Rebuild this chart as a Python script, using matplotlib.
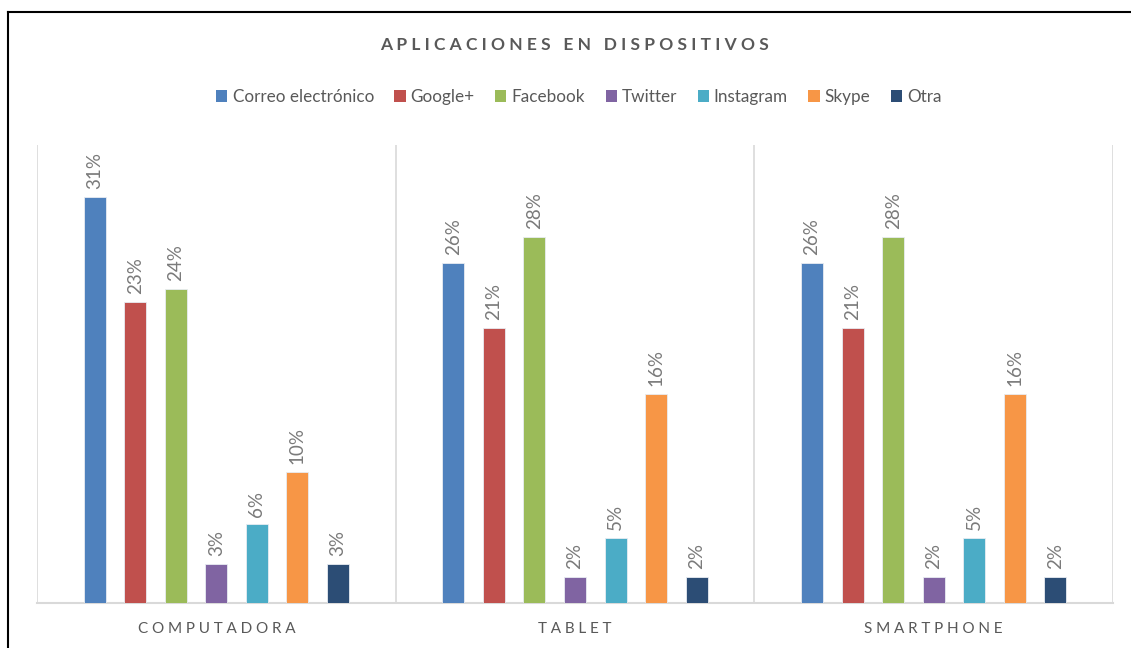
import matplotlib
matplotlib.use("Agg")
import matplotlib.pyplot as plt
import numpy as np
from matplotlib.lines import Line2D
from matplotlib.patches import Patch

plt.rcParams["font.family"] = ["Lato", "DejaVu Sans"]

devices = ["COMPUTADORA", "TABLET", "SMARTPHONE"]
apps = ["Correo electrónico", "Google+", "Facebook", "Twitter", "Instagram", "Skype", "Otra"]
colors = ["#4F81BD", "#C0504D", "#9BBB59", "#8064A2", "#4BACC6", "#F79646", "#2C4D75"]

# percent per app, one value per device (computadora, tablet, smartphone)
correo = [31, 26, 26]
google = [23, 21, 21]
facebook = [24, 28, 28]
twitter = [3, 2, 2]
instagram = [6, 5, 5]
skype = [10, 16, 16]
otra = [3, 2, 2]
series = [correo, google, facebook, twitter, instagram, skype, otra]

GRAY = "#595959"
GRID = "#d9d9d9"


def spaced(s, n=1, word=1):
    # fake letter spacing with thin spaces
    sep = "\u2009" * n
    return (sep + " " * word + sep).join(sep.join(w) for w in s.split(" "))


W, H = 1131, 648
fig = plt.figure(figsize=(W / 100, H / 100), dpi=100)
ax = fig.add_axes([37 / W, 45 / H, (1113 - 37) / W, (603 - 145) / H])

x = np.arange(len(devices))
step, bw = 0.113, 0.0614
for i, (vals, c) in enumerate(zip(series, colors)):
    pos = x + (i - 3) * step
    ax.bar(pos, vals, width=bw, color=c, edgecolor="#e8ecf2", lw=0.6, zorder=3)
    for px, v in zip(pos, vals):
        ax.text(px, v + 0.6, f"{v}%", rotation=90, ha="center", va="bottom",
                fontsize=13.5, color="#7a7a7a", zorder=4)

ax.set_xlim(-0.5, 2.5)
ax.set_ylim(0, 35)
for s in ["top", "right", "left"]:
    ax.spines[s].set_visible(False)
ax.spines["bottom"].set_color(GRID)
ax.spines["bottom"].set_linewidth(1.5)
for b in [-0.5, 0.5, 1.5, 2.5]:
    ax.axvline(b, color=GRID, lw=1.2, zorder=1)
ax.set_yticks([])
ax.set_xticks(x)
ax.set_xticklabels([spaced(d, 2) for d in devices], fontsize=11, color=GRAY)
ax.tick_params(axis="x", length=0, pad=14)

fig.text(574 / W, 1 - 45 / H, spaced("APLICACIONES EN DISPOSITIVOS", 2, 1),
         ha="center", va="center", fontsize=12.5, fontweight="bold", color=GRAY)

handles = [Patch(facecolor=c, edgecolor="none") for c in colors]
fig.legend(handles, apps, loc="center", bbox_to_anchor=(579 / W, 1 - 97 / H), ncol=7,
           frameon=False, fontsize=12.3, handlelength=0.65, handleheight=0.65,
           handletextpad=0.3, columnspacing=1.2, labelcolor=GRAY)

# outer chart border (top and left edges visible in the crop)
fig.add_artist(Line2D([8 / W, 8 / W], [0, 1 - 12 / H], color="black", lw=1.5,
                      transform=fig.transFigure))
fig.add_artist(Line2D([8 / W, 1], [1 - 12 / H, 1 - 12 / H], color="black", lw=1.5,
                      transform=fig.transFigure))

fig.savefig("out.png", dpi=100)
